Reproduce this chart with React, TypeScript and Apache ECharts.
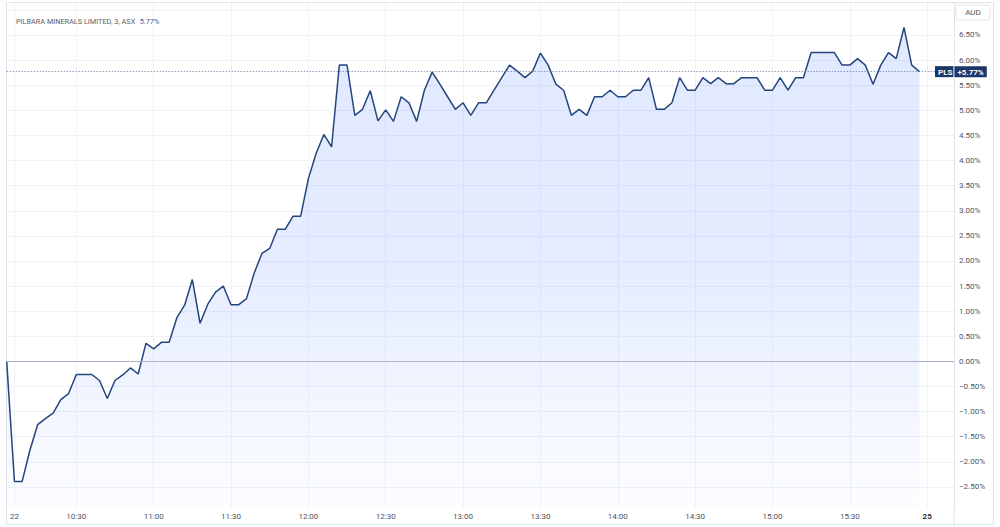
import { useEffect, useRef } from "react";
import * as echarts from "echarts";

// 3-minute bars, % change vs previous close (PLS, ASX), 10:03 .. 15:57
const START_MINUTE = 3; // minutes after 10:00 of the first bar
const STEP_MINUTES = 3;
const changePct = [
  0.0, -2.39, -2.39, -1.77, -1.26, -1.14, -1.03, -0.76, -0.64, -0.26,
  -0.26, -0.26, -0.38, -0.74, -0.38, -0.27, -0.13, -0.25, 0.36, 0.25,
  0.38, 0.38, 0.87, 1.12, 1.63, 0.76, 1.14, 1.38, 1.5, 1.13,
  1.13, 1.25, 1.76, 2.15, 2.25, 2.63, 2.63, 2.89, 2.89, 3.64,
  4.14, 4.52, 4.27, 5.9, 5.9, 4.9, 5.02, 5.39, 4.79, 5.01,
  4.78, 5.27, 5.15, 4.78, 5.4, 5.76, 5.52, 5.27, 5.02, 5.15,
  4.9, 5.15, 5.15, 5.4, 5.65, 5.9, 5.78, 5.65, 5.78, 6.14,
  5.9, 5.52, 5.4, 4.9, 5.02, 4.9, 5.27, 5.27, 5.4, 5.27,
  5.27, 5.4, 5.4, 5.65, 5.02, 5.02, 5.15, 5.65, 5.4, 5.4,
  5.65, 5.53, 5.65, 5.53, 5.53, 5.65, 5.65, 5.65, 5.4, 5.4,
  5.65, 5.4, 5.65, 5.65, 6.15, 6.15, 6.15, 6.15, 5.9, 5.9,
  6.03, 5.9, 5.52, 5.9, 6.15, 6.03, 6.65, 5.9, 5.77,
];

const LAST_PCT = 5.77;
const xTickMinutes = [6, 30, 60, 90, 120, 150, 180, 210, 240, 270, 300, 330, 360];
const xTickLabels = ["22", "10:30", "11:00", "11:30", "12:00", "12:30", "13:00", "13:30", "14:00", "14:30", "15:00", "15:30", "25"];
const yLabelValues = [-2.5, -2, -1.5, -1, -0.5, 0, 0.5, 1, 1.5, 2, 2.5, 3, 3.5, 4, 4.5, 5, 5.5, 6, 6.5];
const yGridValues = [...yLabelValues, 7];

const fmtPct = (v: number) => (v < 0 ? "\u2212" : "") + Math.abs(v).toFixed(2) + "%";

export default function App() {
  const ref = useRef<HTMLDivElement>(null);

  useEffect(() => {
    document.body.style.margin = "0";
    if (!ref.current) return;
    const chart = echarts.init(ref.current, undefined, { renderer: "svg" });
    const font = "Roboto, 'Noto Sans', sans-serif";
    const border = "#e0e3eb";

    const data = changePct.map((v, i) => [START_MINUTE + i * STEP_MINUTES, v]);

    chart.setOption({
      animation: false,
      backgroundColor: "#ffffff",
      textStyle: { fontFamily: font },
      title: {
        left: 11,
        top: 7,
        text: "{a|PILBARA MINERALS LIMITED, 3, ASX} {b|" + LAST_PCT.toFixed(2) + "%}",
        textStyle: {
          fontWeight: "normal",
          rich: {
            a: { fontSize: 7.3, color: "#5d606b", fontFamily: font, fontWeight: "normal" },
            b: { fontSize: 7.3, color: "#3a5ba8", fontFamily: font, fontWeight: "normal" },
          },
        },
      },
      grid: { left: 6.7, right: 46, top: 3, bottom: 19.7 },
      xAxis: {
        type: "value",
        min: START_MINUTE,
        max: 370.4,
        axisLine: { show: true, lineStyle: { color: border } },
        axisTick: { show: false, customValues: xTickMinutes },
        splitLine: { show: true, lineStyle: { color: "#f0f2f7", width: 1 } },
        axisLabel: {
          customValues: xTickMinutes,
          margin: 5,
          fontSize: 8,
          color: "#50535e",
          formatter: (v: number) => {
            const label = xTickLabels[xTickMinutes.indexOf(v)] ?? "";
            return v === 360 ? "{d|" + label + "}" : label;
          },
          rich: {
            d: { fontSize: 8, fontWeight: "bold", color: "#2a2e39", fontFamily: font },
          },
        },
      },
      yAxis: {
        type: "value",
        position: "right",
        min: -2.905,
        max: 7.137,
        axisLine: { show: true, lineStyle: { color: border } },
        axisTick: { show: false, customValues: yGridValues },
        splitLine: { show: true, lineStyle: { color: "#f0f2f7", width: 1 } },
        axisLabel: {
          customValues: yLabelValues,
          margin: 5,
          fontSize: 8,
          color: "#50535e",
          formatter: (v: number) => fmtPct(v),
        },
      },
      series: [
        {
          type: "line",
          data,
          showSymbol: false,
          symbol: "none",
          lineStyle: { color: "#24457d", width: 1.5 },
          areaStyle: {
            origin: "start",
            color: new echarts.graphic.LinearGradient(0, 0, 0, 1, [
              { offset: 0, color: "rgba(41, 98, 255, 0.2)" },
              { offset: 0.5, color: "rgba(41, 98, 255, 0.17)" },
              { offset: 1, color: "rgba(41, 98, 255, 0.02)" },
            ]),
          },
          markLine: {
            silent: true,
            symbol: "none",
            data: [
              {
                yAxis: 0,
                lineStyle: { color: "#aab3cb", type: "solid", width: 1 },
                label: { show: false },
              },
              {
                yAxis: LAST_PCT,
                lineStyle: { color: "#5d7199", type: [1, 2], width: 1 },
                label: {
                  show: true,
                  position: "end",
                  distance: -19,
                  formatter: "{a|PLS}{b|+" + LAST_PCT.toFixed(2) + "%}",
                  rich: {
                    a: {
                      backgroundColor: "#1c3767",
                      color: "#ffffff",
                      fontSize: 8,
                      fontWeight: "bold",
                      padding: [2, 2, 1, 3],
                      fontFamily: font,
                    },
                    b: {
                      backgroundColor: "#1c3767",
                      color: "#ffffff",
                      fontSize: 8,
                      fontWeight: "bold",
                      padding: [2, 3, 1, 3],
                      borderColor: "#ffffff",
                      borderWidth: 1,
                      fontFamily: font,
                    },
                  },
                },
              },
            ],
          },
        },
      ],
      graphic: [
        {
          type: "rect",
          shape: { x: 6.5, y: 2.5, width: 987, height: 522 },
          style: { fill: "none", stroke: border, lineWidth: 1 },
          silent: true,
        },
        {
          type: "line",
          shape: { x1: 954, y1: 507, x2: 954, y2: 524.5 },
          style: { stroke: border, lineWidth: 1 },
          silent: true,
        },
        {
          type: "rect",
          shape: { x: 956, y: 5, width: 34, height: 15, r: 2 },
          style: { fill: "#ffffff", stroke: border, lineWidth: 1 },
          silent: true,
        },
        {
          type: "text",
          x: 973,
          y: 12.5,
          style: {
            text: "AUD",
            fill: "#50535e",
            fontSize: 8,
            fontFamily: font,
            align: "center",
            verticalAlign: "middle",
          },
          silent: true,
        },
      ],
    });

    return () => chart.dispose();
  }, []);

  return <div ref={ref} style={{ width: 1000, height: 527 }} />;
}
